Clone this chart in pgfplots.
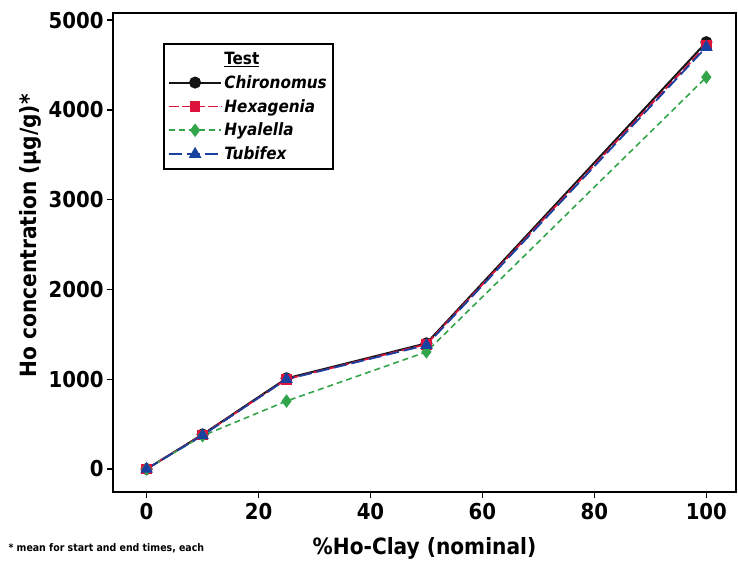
\documentclass[border=0pt]{standalone}
\usepackage{pgfplots}
\pgfplotsset{compat=1.18}
\usepackage{fontspec}
\setmainfont{DejaVu Sans Condensed}
\usetikzlibrary{calc}
\definecolor{cChi}{RGB}{20,20,20}
\definecolor{cHex}{RGB}{220,20,60}
\definecolor{cHya}{RGB}{50,165,75}
\definecolor{cTub}{RGB}{25,65,160}
\begin{document}
\begin{tikzpicture}
\begin{axis}[
  name=ax,
  scale only axis,
  width=623bp, height=479bp,
  xmin=-6, xmax=105.3,
  ymin=-256, ymax=5080,
  xtick={0,20,40,60,80,100},
  ytick={0,1000,2000,3000,4000,5000},
  xtick pos=left, ytick pos=left,
  tick align=outside,
  major tick length=6bp,
  axis line style={line width=1.8pt},
  every tick/.style={line width=1.5pt, black},
  tick label style={font=\fontsize{22}{26}\selectfont\bfseries},
  /pgf/number format/assume math mode=true,
  scaled y ticks=false,
  yticklabel style={/pgf/number format/1000 sep={}},
  xticklabel style={yshift=-2bp},
  xlabel={\%Ho-Clay (nominal)},
  ylabel={Ho concentration (µg/g)*},
  xlabel style={font=\fontsize{22.5}{26}\selectfont\bfseries, at={(axis description cs:0.5,0)}, anchor=center, yshift=-56bp},
  ylabel style={font=\fontsize{22.5}{26}\selectfont\bfseries, at={(axis description cs:0,0.535)}, anchor=center, yshift=83bp},
  legend cell align=left,
  legend style={at={(axis description cs:0.08,0.937)}, anchor=north west,
    draw=black, line width=1.8pt, font=\fontsize{17}{19}\selectfont\bfseries\itshape,
    inner xsep=4bp, inner ysep=6bp, row sep=5.5bp},
  legend image code/.code={\draw[mark repeat=2,mark phase=2] plot coordinates {(0cm,0cm)(0.93cm,0cm)(1.86cm,0cm)};},
]
\addlegendimage{empty legend}
\addlegendentry{\upshape\underline{Test}}
\addplot[color=cChi, line width=2pt, mark=*, mark size=5bp, mark options={solid, fill=cChi}]
  coordinates {(0,0) (10,385) (25,1010) (50,1400) (100,4755)};
\addlegendentry{Chironomus}
\addplot[color=cHex, line width=1.8pt, dash pattern=on 10pt off 3pt, mark=square*, mark size=4.5bp, mark options={solid, fill=cHex}]
  coordinates {(0,0) (10,380) (25,1000) (50,1390) (100,4720)};
\addlegendentry{Hexagenia}
\addplot[color=cHya, line width=1.6pt, dash pattern=on 6pt off 4pt, mark=diamond*, mark size=5.5bp, mark options={solid, fill=cHya}]
  coordinates {(0,0) (10,370) (25,757) (50,1305) (100,4365)};
\addlegendentry{Hyalella}
\addplot[color=cTub, line width=1.8pt, dash pattern=on 13pt off 5pt, mark=triangle*, mark size=5.5bp, mark options={solid, fill=cTub}]
  coordinates {(0,0) (10,375) (25,1000) (50,1380) (100,4700)};
\addlegendentry{Tubifex}
\end{axis}
\node[anchor=west, font=\fontsize{10.5}{12}\selectfont\bfseries] at ($(ax.south west)+(-108bp,-56bp)$) {* mean for start and end times, each};
\pgfresetboundingbox
\path ($(ax.south west)+(-113bp,-69bp)$) rectangle ($(ax.north east)+(2bp,13bp)$);
\end{tikzpicture}
\end{document}
